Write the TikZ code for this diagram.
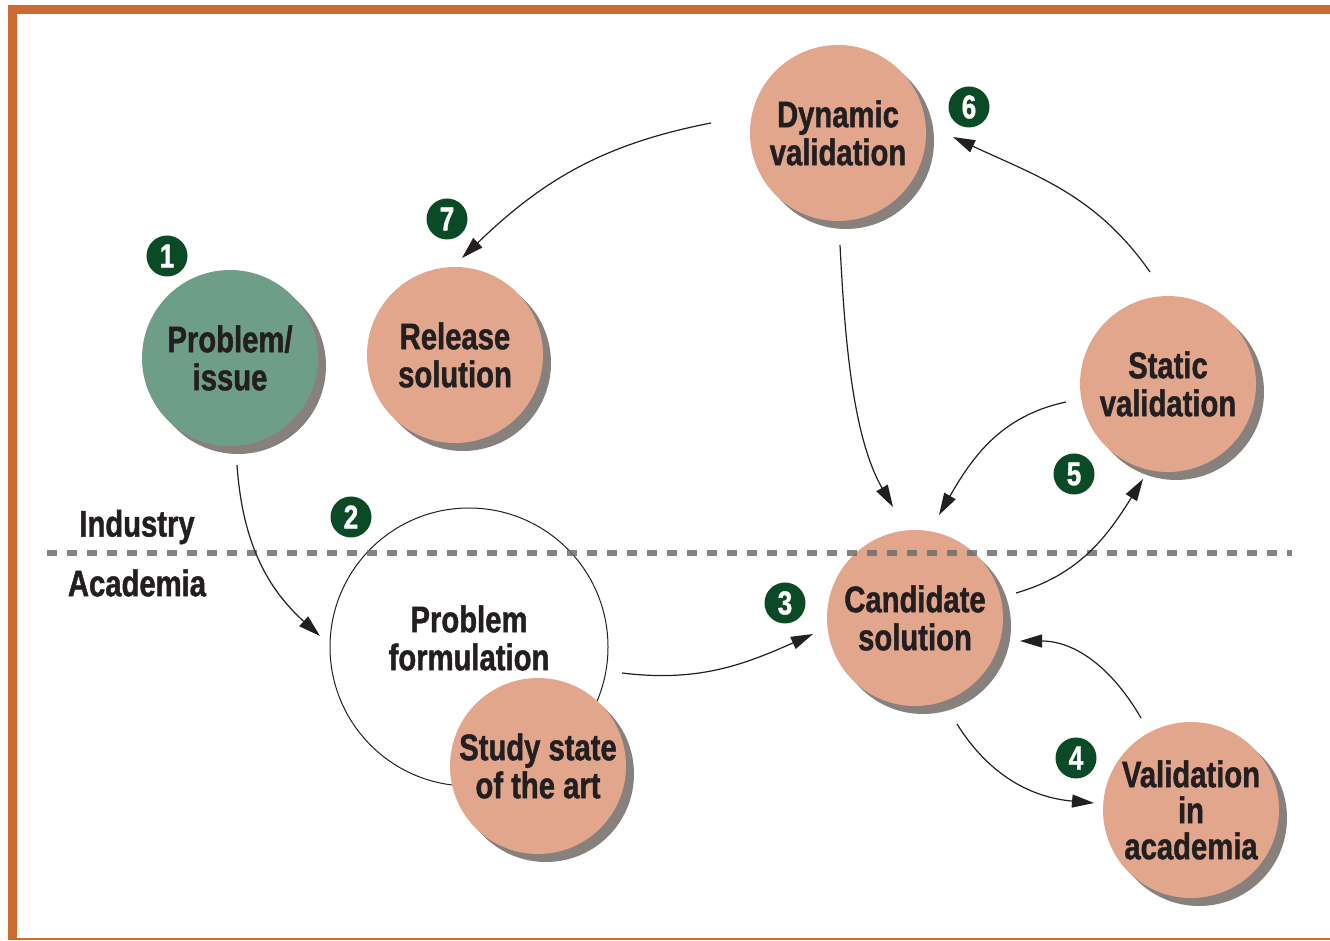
\documentclass[tikz,border=0pt]{standalone}
\usepackage{fontspec}
\setmainfont{Liberation Sans}[FakeStretch=0.79, BoldFeatures={FakeBold=1.2}]
\usetikzlibrary{arrows.meta,shadows,calc}
\definecolor{salmon}{HTML}{E2A68D}
\definecolor{greenc}{HTML}{6E9E88}
\definecolor{badgec}{HTML}{0B4A26}
\definecolor{shadowc}{HTML}{88807C}
\definecolor{borderc}{HTML}{CD6A32}
\definecolor{txt}{HTML}{231F20}
\definecolor{dashc}{HTML}{6E6E6E}
\newcommand\mainfs{\bfseries\fontsize{37}{38}\selectfont}
\newcommand\badgefs{\bfseries\fontsize{33}{33}\selectfont}
\tikzset{
  bub/.style={circle, minimum size=176pt, inner sep=0pt, fill=salmon, align=center,
    font=\mainfs, text=txt,
    general shadow={fill=shadowc, shadow xshift=8pt, shadow yshift=-8pt}},
  badge/.style={circle, fill=badgec, minimum size=41pt, inner sep=0pt, text=white, font=\badgefs},
  side/.style={font=\mainfs, text=txt, inner sep=0pt},
  conn/.style={draw=txt, line width=1.2pt, -{Triangle[length=22pt,width=13pt]}},
}
\begin{document}
\begin{tikzpicture}[x=1pt,y=1pt]
\useasboundingbox (0,0) rectangle (1330,940);
% border
\fill[borderc] (8,926) rectangle (1330,935);
\fill[borderc] (8,0) rectangle (17,935);
\fill[borderc] (8,0) rectangle (1330,2.5);
% problem formulation circle
\node[circle, minimum size=278pt, inner sep=0pt, draw=txt, line width=1pt, fill=white,
  label={[yshift=9pt, align=center, font=\mainfs, text=txt]center:Problem\\formulation}] (pf) at (469,293) {};
% bubbles
\node[bub, fill=greenc] (pi) at (230,582) {Problem/\\issue};
\node[bub] (rs) at (455,585) {Release\\solution};
\node[bub] (dv) at (838,807) {Dynamic\\validation};
\node[bub] (sv) at (1168,556) {Static\\validation};
\node[bub] (cs) at (915,322) {Candidate\\solution};
\node[bub, font=\bfseries\fontsize{37}{36}\selectfont] (va) at (1191,130) {Validation\\in\\academia};
\node[bub] (ss) at (538,174) {Study state\\of the art};
% dashed divider
\draw[dashc, opacity=0.85, line width=6pt, dash pattern=on 10pt off 10pt] (47,387) -- (1292,387);
% side labels
\node[side] (ind) at (137,413) {Industry};
\node[side] (aca) at (137,357) {Academia};
% badges
\node[badge] (b1) at (167,684) {1};
\node[badge] (b2) at (351,423) {2};
\node[badge] (b3) at (785,337) {3};
\node[badge] (b4) at (1076,182) {4};
\node[badge] (b5) at (1074,466) {5};
\node[badge] (b6) at (969,833) {6};
\node[badge] (b7) at (447,721) {7};
% connectors
\draw[conn] ($(pi)+(7,-107)$) to[out=-86,in=138] ($(pf)+(-149,11)$);
\draw[conn] ($(pf)+(153,-26)$) to[out=-7,in=204] ($(cs)+(-102,-16)$);
\draw[conn] ($(cs)+(42,-106)$) to[out=-58,in=175] ($(va)+(-97,7)$);
\draw[conn] ($(va)+(-50,92)$) to[out=120,in=0] ($(cs)+(105,-23)$);
\draw[conn] ($(cs)+(101,25)$) to[out=16,in=238] ($(sv)+(-25,-95)$);
\draw[conn] ($(sv)+(-102,-18)$) to[out=192,in=60] ($(cs)+(24,103)$);
\draw[conn] ($(sv)+(-18,112)$) to[out=125,in=-25] ($(dv)+(115,-4)$);
\draw[conn] ($(dv)+(2,-112)$) to[out=-87,in=120, looseness=0.8] ($(cs)+(-22,111)$);
\draw[conn] ($(dv)+(-127,10)$) to[out=191,in=44] ($(rs)+(7,97)$);
\end{tikzpicture}
\end{document}
